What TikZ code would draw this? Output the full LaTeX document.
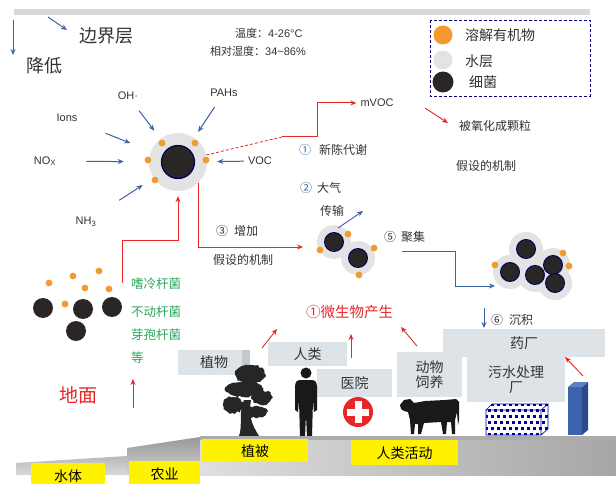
\documentclass[tikz,border=0pt]{standalone}
\usepackage{fontspec}
\setmainfont{Liberation Sans}
\newfontfamily\zh{Noto Sans CJK SC}
\usetikzlibrary{arrows.meta,decorations.pathmorphing}
\definecolor{orgc}{HTML}{F29A2E}
\definecolor{waterc}{HTML}{E3E3E3}
\definecolor{corec}{HTML}{2B2626}
\definecolor{bluec}{HTML}{3A63A8}
\definecolor{redc}{HTML}{E8262A}
\definecolor{greenc}{HTML}{2EA65C}
\definecolor{boxc}{HTML}{DEE3E8}
\definecolor{txtc}{HTML}{333333}
\definecolor{blkf}{HTML}{3D62AE}
\definecolor{blks}{HTML}{2B4A8A}
\definecolor{blkt}{HTML}{5B80C4}
\newcommand\fsz[1]{\fontsize{#1}{#1}\selectfont}
\newcommand\orgdot[1]{\fill[orgc] (#1) circle (3.4);}
\newcommand\halo[2]{\node(#1)[halo] at (#2) {};}
\newcommand\core[2]{\node(#1)[core] at (#2) {};}
\tikzset{
  halo/.style={circle,fill=waterc,inner sep=0pt,minimum size=34},
  core/.style={circle,fill=corec,draw=blue!35!black,line width=.9pt,inner sep=0pt,minimum size=19},
  lbl/.style={inner sep=1pt,text=txtc},
  zlbl/.style={lbl,font=\zh\fsz{12}},
  barrow/.style={bluec,line width=1pt,-{Stealth[length=6pt,width=5pt]}},
  rarrow/.style={redc,line width=1pt,-{Stealth[length=6pt,width=5pt]}},
  gbox/.style={fill=boxc,inner sep=0pt,font=\zh\fsz{14},text=txtc,align=center},
  ybox/.style={fill=yellow,inner sep=0pt,font=\zh\fsz{14},text=black,anchor=north west}
}
\begin{document}
\begin{tikzpicture}[x=1pt,y=-1pt]
  \useasboundingbox (0,0) rectangle (616,484);
  \fill[white] (0,0) rectangle (616,484);
  \fill[gray!30] (14,9) rectangle (590,15);

  % top labels
  \node(bj)[lbl,anchor=west,font=\zh\fsz{18}] at (78,36) {边界层};
  \node(jd)[lbl,anchor=west,font=\zh\fsz{18}] at (25,66) {降低};
  \coordinate (a1) at (13,20); \coordinate (a2) at (13,55);
  \coordinate (a3) at (48,17); \coordinate (a4) at (67,30);
  \draw[barrow] (a1) -- (a2);
  \draw[barrow] (a3) -- (a4);
  \node(tz)[lbl,anchor=west,font=\fsz{11}] at (234,33) {{\zh 温度：}4-26°C};
  \node(sd)[lbl,anchor=west,font=\fsz{11}] at (209,51) {{\zh 相对湿度：}34\textasciitilde86\%};

  % legend
  \draw[densely dashed,blue!50!black] (430,20) rectangle (590,96);
  \node(lg1)[circle,fill=orgc,inner sep=0pt,minimum size=19] at (443,35) {};
  \node(lg2)[circle,fill=waterc,inner sep=0pt,minimum size=19] at (443,60) {};
  \node(lg3)[circle,fill=corec,inner sep=0pt,minimum size=21] at (443,82) {};
  \node[lbl,anchor=west,font=\zh\fsz{14}] at (464,35) {溶解有机物};
  \node[lbl,anchor=west,font=\zh\fsz{14}] at (464,61) {水层};
  \node[lbl,anchor=west,font=\zh\fsz{14}] at (468,82) {细菌};

  % main particle
  \node(p0)[halo,minimum size=58] at (178,162) {};
  \node(c0)[core,minimum size=33,line width=1.2pt] at (178,162) {};
  \orgdot{162,143} \orgdot{195,143} \orgdot{148,160} \orgdot{206,160} \orgdot{155,180}
  \node(oh)[lbl,font=\fsz{11}] at (128,96) {OH·};
  \node(pahs)[lbl,font=\fsz{11}] at (224,93) {PAHs};
  \node(ions)[lbl,font=\fsz{11}] at (67,118) {Ions};
  \node(nox)[lbl,font=\fsz{11}] at (45,161) {NO\textsubscript{X}};
  \node(voc)[lbl,font=\fsz{11}] at (260,161) {VOC};
  \node(nh3)[lbl,font=\fsz{11}] at (86,222) {NH\textsubscript{3}};
  \draw[barrow,shorten <=12pt,shorten >=10pt] (oh) -- (p0);
  \draw[barrow,shorten <=11pt,shorten >=7pt] (pahs) -- (p0);
  \draw[barrow,shorten <=29pt,shorten >=22pt] (ions) -- (p0);
  \draw[barrow,shorten <=29pt,shorten >=25pt] (nox) -- (p0);
  \draw[barrow,shorten <=3pt,shorten >=10pt] (voc) -- (p0);
  \draw[barrow,shorten <=29pt,shorten >=13pt] (nh3) -- (p0);

  % metabolism branch
  \node(mvoc)[lbl,font=\fsz{11}] at (377,103) {mVOC};
  \coordinate (k1) at (282,137); \coordinate (k2) at (317,137);
  \draw[redc,densely dashed,line width=.8pt] (p0.14) -- (k1);
  \draw[rarrow,shorten >=3pt] (k1) -- (k2) |- (mvoc);
  \coordinate (k3) at (425,108); \coordinate (k4) at (448,123);
  \draw[rarrow,line width=.9pt] (k3) -- (k4);
  \node(ox)[zlbl,anchor=west] at (458,126) {被氧化成颗粒};
  \node(n1)[lbl,anchor=west,font=\zh\fsz{12}] at (298,150) {{\color{bluec}①}\hspace{8pt}新陈代谢};
  \node(jz1)[zlbl,anchor=west] at (455,166) {假设的机制};
  \node(n2)[lbl,anchor=west,font=\zh\fsz{12}] at (299,188) {{\color{bluec}②}\hspace{5pt}大气};
  \node(cs)[zlbl,anchor=west] at (319,211) {传输};

  % small cluster
  \halo{hA}{334,242} \halo{hB}{358,258}
  \core{cA}{334,242} \core{cB}{358,258}
  \orgdot{348,234} \orgdot{320,250} \orgdot{374,248} \orgdot{359,275}
  \coordinate (b1) at (338,228); \coordinate (b2) at (363,211);
  \draw[barrow,line width=.9pt] (b1) -- (b2);
  \coordinate (t3) at (303,247);
  \draw[rarrow] (p0.-45) |- (t3);
  \node(n3)[lbl,anchor=west,font=\zh\fsz{12}] at (215,231) {③\hspace{6pt}增加};
  \node(jz2)[zlbl,anchor=west] at (212,260) {假设的机制};
  \node(n5)[lbl,anchor=west,font=\zh\fsz{12}] at (383,237) {⑤\hspace{5pt}聚集};

  % big cluster
  \halo{h1}{526,249} \halo{h2}{510,272} \halo{h3}{535,275} \halo{h4}{553,265} \halo{h5}{555,283}
  \core{k1c}{526,249} \core{k2c}{510,272} \core{k3c}{535,275} \core{k4c}{553,265} \core{k5c}{555,283}
  \orgdot{563,253} \orgdot{569,266} \orgdot{495,265}
  \coordinate (u1) at (402,251); \coordinate (u2) at (455,286); \coordinate (u3) at (495,286);
  \draw[barrow,line width=.9pt] (u1) -| (u2) -- (u3);
  \coordinate (d1) at (484,308); \coordinate (d2) at (484,328);
  \draw[barrow] (d1) -- (d2);
  \node(n6)[lbl,anchor=west,font=\zh\fsz{12}] at (490,320) {⑥\hspace{6pt}沉积};

  % ground bacteria
  \foreach \p in {{43,308},{83,309},{112,307},{76,331}} \fill[corec] (\p) circle (10);
  \orgdot{49,283} \orgdot{73,276} \orgdot{99,271} \orgdot{85,288} \orgdot{109,289} \orgdot{65,304}
  \coordinate (s0) at (122,283); \coordinate (m0) at (178,240);
  \draw[rarrow,shorten >=5pt] (s0) |- (m0) -- (p0);
  \node(g1)[lbl,anchor=west,font=\zh\fsz{12.5},text=greenc] at (130,284) {嗜冷杆菌};
  \node(g2)[lbl,anchor=west,font=\zh\fsz{12.5},text=greenc] at (130,312) {不动杆菌};
  \node(g3)[lbl,anchor=west,font=\zh\fsz{12.5},text=greenc] at (130,335) {芽孢杆菌};
  \node(g4)[lbl,anchor=west,font=\zh\fsz{12.5},text=greenc] at (130,358) {等};
  \node(dm)[lbl,anchor=west,font=\zh\fsz{19},text=redc] at (58,395) {地面};
  \coordinate (e1) at (133,408); \coordinate (e2) at (133,379);
  \draw[rarrow] (e1) -- (e2);

  % sources
  \node(ws)[lbl,anchor=west,font=\zh\fsz{14.5},text=redc] at (305,312) {①微生物产生};
  \coordinate (f1) at (262,348); \coordinate (f2) at (277,329);
  \coordinate (f3) at (351,358); \coordinate (f4) at (351,334);
  \coordinate (f5) at (417,346); \coordinate (f6) at (401,327);
  \coordinate (f7) at (583,376); \coordinate (f8) at (565,357);
  \draw[rarrow,line width=.9pt] (f1) -- (f2);
  \draw[rarrow,line width=.9pt] (f3) -- (f4);
  \draw[rarrow,line width=.9pt] (f5) -- (f6);
  \draw[rarrow,line width=.9pt] (f7) -- (f8);

  \node(zw)[gbox,minimum width=72,minimum height=25] at (214,362.5) {植物};
  \fill[boxc!88!black] (zw.north east) rectangle ([xshift=-8pt]zw.south east);
  \node(rl)[gbox,minimum width=79,minimum height=24] at (307.5,354) {人类};
  \node(yy)[gbox,minimum width=75,minimum height=28] at (354.5,383) {医院};
  \node(dw)[gbox,minimum width=65,minimum height=45] at (429.5,374.5) {动物\\[1pt]饲养};
  \node(yc)[gbox,minimum width=162,minimum height=28] at (524,343) {药厂};
  \node(ws2)[gbox,minimum width=98,minimum height=45] at (516,379.5) {污水处理\\[1pt]厂};

  % tree
  \begin{scope}[fill=black!85,decoration={random steps,segment length=2.5pt,amplitude=1.2pt}]
    \fill[decorate] (250,374) ellipse (15 and 9);
    \fill[decorate] (244,389) ellipse (19 and 8);
    \fill[decorate] (262,398) ellipse (10 and 7);
    \fill[decorate] (233,405) ellipse (10 and 8);
    \fill[decorate] (256,412) ellipse (11 and 6);
    \fill (239,436) .. controls (243,425) and (238,414) .. (244,400) -- (251,400) .. controls (248,415) and (252,425) .. (259,436) -- cycle;
  \end{scope}

  % person
  \fill[black!90] (306,373) circle (5.5);
  \fill[black!90] (300,380) -- (312,380) .. controls (316,381) .. (317,386) -- (317,410) -- (314,412) -- (313,400) -- (312,437) -- (307,437) -- (306,415) -- (305,437) -- (300,437) -- (299,400) -- (298,412) -- (295,410) -- (295,386) .. controls (296,381) .. (300,380) -- cycle;

  % hospital
  \fill[redc] (358,412) circle (15);
  \fill[white] (354.5,401) rectangle (361.5,423);
  \fill[white] (347,408.5) rectangle (369,415.5);

  % cow
  \fill[black!90] (400,405) -- (404,400) -- (410,399) -- (414,403) -- (425,401) -- (445,400) -- (456,399) -- (459,402) -- (459,420) -- (458,425) -- (457,412) -- (455,420) -- (455,434) -- (452,434) -- (451,422) -- (447,422) -- (446,434) -- (443,434) -- (441,422) -- (424,423) -- (421,434) -- (418,434) -- (418,424) -- (415,424) -- (414,434) -- (411,434) -- (410,420) -- (408,412) -- (404,411) -- (401,409) -- cycle;

  % treatment tank
  \fill[white] (486,410) -- (492,404) -- (548,404) -- (548,429) -- (541,435) -- (486,435) -- cycle;
  \begin{scope}
    \clip (486,410) -- (492,404) -- (548,404) -- (548,429) -- (541,435) -- (486,435) -- cycle;
    \foreach \i in {0,...,11} \foreach \j in {0,...,5}
      \fill[blue!65!black] ({485+6*\i+mod(\j,2)*3},{403+6*\j}) rectangle ++(3,3);
  \end{scope}
  \draw[blue!60!black,line width=.6pt] (486,410) rectangle (541,435) (486,410) -- (492,404) -- (548,404) -- (541,410) (548,404) -- (548,429) -- (541,435);

  % tall block
  \fill[blkf] (568,387) rectangle (582,435);
  \fill[blks] (582,387) -- (588,382) -- (588,430) -- (582,435) -- cycle;
  \fill[blkt] (568,387) -- (574,382) -- (588,382) -- (582,387) -- cycle;

  % ground
  \shade[top color=gray!55,bottom color=gray!30] (16,463) -- (127,456) -- (127,475) -- (16,475) -- cycle;
  \shade[top color=gray!80,bottom color=gray!35] (127,448) -- (200,437) -- (200,475) -- (127,475) -- cycle;
  \shade[left color=gray!25,right color=gray!70] (200,436) rectangle (616,475);
  \fill[gray!65] (200,436) rectangle (616,440);
  \node(st)[ybox,minimum width=74,minimum height=26] at (31,463) {水体};
  \node(ny)[ybox,minimum width=71,minimum height=26] at (129,461) {农业};
  \node(zb)[ybox,minimum width=106,minimum height=23] at (202,439) {植被};
  \node(hd)[ybox,minimum width=107,minimum height=25] at (351,440) {人类活动};
\end{tikzpicture}
\end{document}
